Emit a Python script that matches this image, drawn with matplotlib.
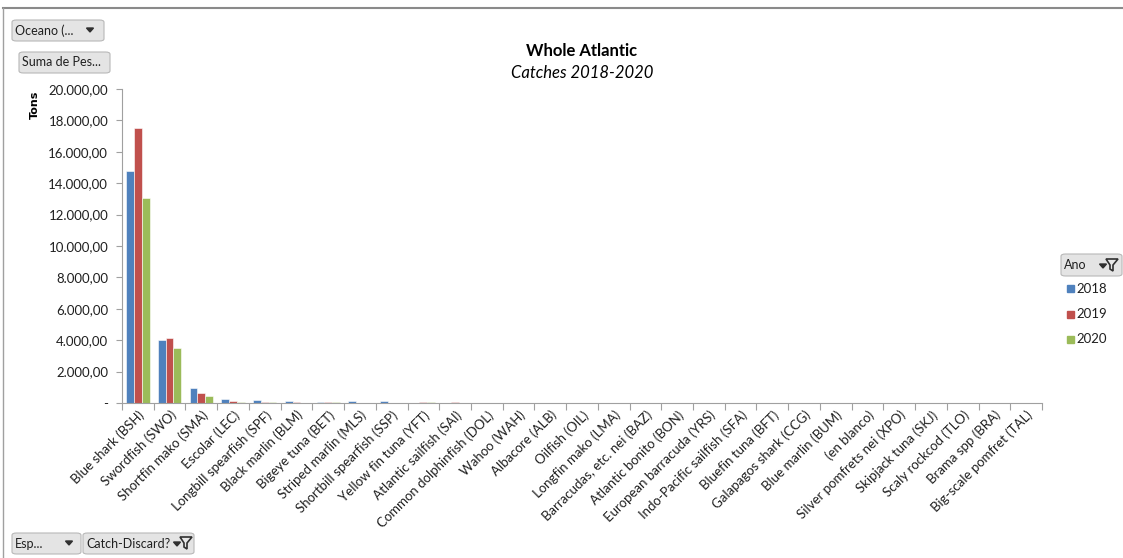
import numpy as np
import matplotlib.pyplot as plt
from matplotlib.patches import FancyBboxPatch, Polygon
from matplotlib.lines import Line2D
from matplotlib.ticker import FuncFormatter

species = [
    'Blue shark (BSH)', 'Swordfish (SWO)', 'Shortfin mako (SMA)', 'Escolar (LEC)',
    'Longbill spearfish (SPF)', 'Black marlin (BLM)', 'Bigeye tuna (BET)',
    'Striped marlin (MLS)', 'Shortbill spearfish (SSP)', 'Yellow fin tuna (YFT)',
    'Atlantic sailfish (SAI)', 'Common dolphinfish (DOL)', 'Wahoo (WAH)',
    'Albacore (ALB)', 'Oilfish (OIL)', 'Longfin mako (LMA)',
    'Barracudas, etc. nei (BAZ)', 'Atlantic bonito (BON)',
    'European barracuda (YRS)', 'Indo-Pacific sailfish (SFA)',
    'Bluefin tuna (BFT)', 'Galapagos shark (CCG)', 'Blue marlin (BUM)',
    '(en blanco)', 'Silver pomfrets nei (XPO)', 'Skipjack tuna (SKJ)',
    'Scaly rockcod (TLO)', 'Brama spp (BRA)', 'Big-scale pomfret (TAL)',
]
tons_2018 = [14800, 4000, 950, 270, 210, 150, 50, 100, 150, 0, 0, 0, 0, 0, 0,
             0, 0, 0, 0, 0, 0, 0, 0, 0, 0, 0, 0, 0, 0]
tons_2019 = [17500, 4150, 650, 130, 60, 60, 50, 0, 0, 50, 50, 0, 0, 0, 0,
             0, 0, 0, 0, 0, 0, 0, 0, 0, 0, 0, 0, 0, 0]
tons_2020 = [13050, 3500, 450, 60, 50, 0, 50, 0, 0, 50, 0, 0, 0, 0, 0,
             0, 0, 0, 0, 0, 0, 0, 0, 0, 0, 0, 0, 0, 0]
years = ['2018', '2019', '2020']
colors = ['#4F81BD', '#C0504D', '#9BBB59']

plt.rcParams['font.family'] = ['Lato', 'DejaVu Sans']
W, H = 1123, 558

fig = plt.figure(figsize=(11.23, 5.58), dpi=100)
ax = fig.add_axes([122 / W, 155 / H, 920 / W, 314 / H])

x = np.arange(len(species))
w = 0.245
for i, (vals, c) in enumerate(zip([tons_2018, tons_2019, tons_2020], colors)):
    ax.bar(x + (i - 1) * w, vals, width=w, color=c, edgecolor='white',
           linewidth=0.4, label=years[i])

ax.set_xlim(-0.5, len(species) - 0.5)
ax.set_ylim(0, 20000)
ax.set_yticks(np.arange(0, 20001, 2000))


def fmt(v, pos):
    if v == 0:
        return '-'
    return f'{v:,.2f}'.replace(',', 'X').replace('.', ',').replace('X', '.')


ax.yaxis.set_major_formatter(FuncFormatter(fmt))
ax.set_xticks(np.arange(len(species) + 1) - 0.5, minor=True)
ax.set_xticks(x)
ax.set_xticklabels(species, rotation=45, ha='right', rotation_mode='anchor',
                   fontsize=9.5, color='#202020')
ax.tick_params(axis='x', which='major', length=0, pad=4)
ax.tick_params(axis='x', which='minor', length=5, color='#a0a0a0', width=0.8)
ax.tick_params(axis='y', length=4, color='#a0a0a0', labelsize=9.5,
               labelcolor='#202020', pad=6)
for s in ['top', 'right']:
    ax.spines[s].set_visible(False)
for s in ['left', 'bottom']:
    ax.spines[s].set_color('#a0a0a0')
    ax.spines[s].set_linewidth(0.8)

fig.text(35 / W, 1 - 105 / H, 'Tons', rotation=90, ha='center', va='center',
         fontsize=8, fontweight='bold', family=['DejaVu Sans'])
fig.text(582 / W, 1 - 51 / H, 'Whole Atlantic', ha='center', va='center',
         fontsize=12, fontweight='bold')
fig.text(582 / W, 1 - 73 / H, 'Catches 2018-2020', ha='center', va='center',
         fontsize=12, style='italic')

# outer frame of the pivot chart area
fig.add_artist(Line2D([3 / W, 1], [1 - 8 / H] * 2, color='#8a8a8a', lw=1.5))
fig.add_artist(Line2D([3 / W] * 2, [0, 1 - 8 / H], color='#a0a0a0', lw=1.0))


def field_button(x0, y0, x1, y1, text):
    box = FancyBboxPatch((x0 / W, 1 - y1 / H), (x1 - x0) / W, (y1 - y0) / H,
                         boxstyle='round,pad=0,rounding_size=0.004',
                         transform=fig.transFigure, facecolor='#e4e4e4',
                         edgecolor='#b8b8b8', linewidth=0.8)
    fig.add_artist(box)
    fig.text((x0 + 3) / W, 1 - (y0 + y1) / 2 / H, text,
             ha='left', va='center', fontsize=9, color='#202020')


def dropdown(cx, cy):
    tri = [(cx - 3.5, cy - 2), (cx + 3.5, cy - 2), (cx, cy + 2)]
    fig.add_artist(Polygon([(px / W, 1 - py / H) for px, py in tri],
                           closed=True, transform=fig.transFigure,
                           color='#303030'))


def filter_icon(cx, cy):
    # small arrow followed by a funnel
    dropdown(cx - 7, cy + 1)
    funnel = [(cx - 4, cy - 6), (cx + 8, cy - 6), (cx + 3, cy), (cx + 3, cy + 6),
              (cx, cy + 4), (cx, cy)]
    fig.add_artist(Polygon([(px / W, 1 - py / H) for px, py in funnel],
                           closed=True, transform=fig.transFigure,
                           facecolor='#e8e8e8', edgecolor='#303030', lw=1.2))


field_button(12, 20, 104, 41, 'Oceano (...')
dropdown(90, 30)
field_button(19, 52, 110, 73, 'Suma de Pes...')
field_button(12, 533, 81, 554, 'Esp...')
dropdown(69, 543)
field_button(83, 533, 194, 554, 'Catch-Discard?')
filter_icon(184, 543)
field_button(1061, 254, 1122, 276, 'Ano')
filter_icon(1110, 265)

# legend entries
for i, (yr, c) in enumerate(zip(years, colors)):
    yy = 1 - (289 + i * 25) / H
    fig.add_artist(plt.Rectangle((1067 / W, yy - 3.5 / H), 7 / W, 7 / H,
                                 transform=fig.transFigure, color=c))
    fig.text(1076 / W, yy, yr, ha='left', va='center', fontsize=9.5,
             color='#202020')

fig.savefig('out.png', dpi=100)
